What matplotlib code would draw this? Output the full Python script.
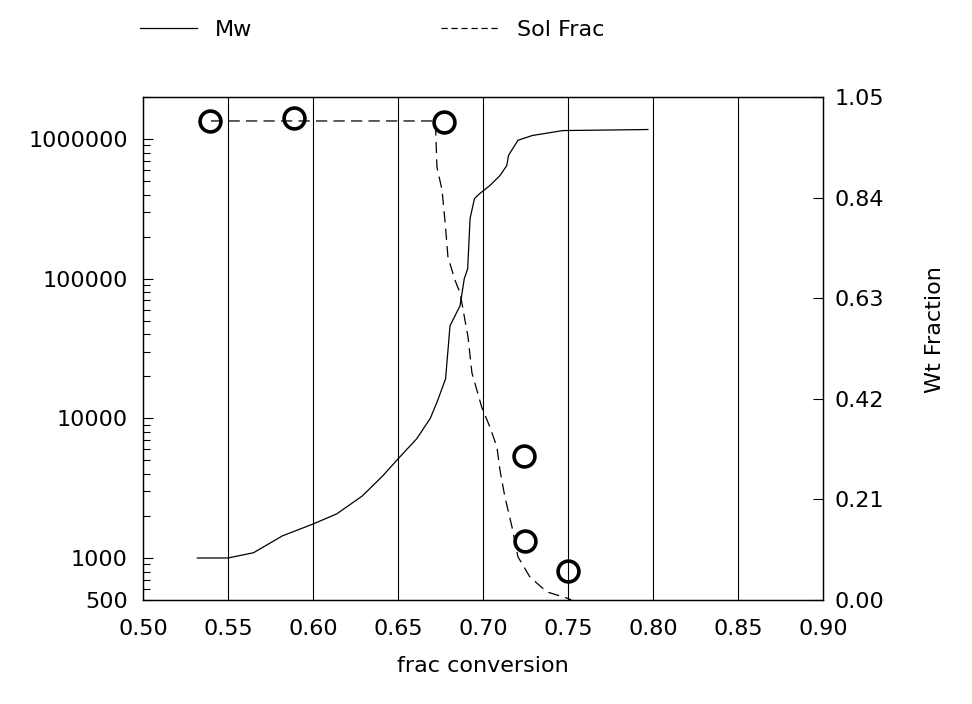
import matplotlib
matplotlib.use("Agg")
import matplotlib.pyplot as plt
from matplotlib.ticker import FixedLocator, LogLocator, NullFormatter
from matplotlib.lines import Line2D

plt.rcParams['font.family'] = ['DejaVu Sans']

# Mw curve (left, log axis)
mw_x = [0.532, 0.55, 0.565, 0.582, 0.60, 0.614, 0.629, 0.641, 0.65, 0.661,
        0.669, 0.673, 0.678, 0.6806, 0.6865, 0.689, 0.691, 0.6924, 0.695,
        0.698, 0.704, 0.71, 0.714, 0.715, 0.7206, 0.729, 0.747, 0.797]
mw_y = [1000, 1000, 1090, 1440, 1750, 2070, 2780, 3870, 5120, 7140,
        10000, 13100, 19200, 46000, 64000, 100000, 118000, 270000, 375000,
        406000, 464000, 548000, 646000, 764000, 980000, 1060000, 1150000, 1170000]

# Sol Frac curve (right axis)
sol_x = [0.54, 0.589, 0.6718, 0.6722, 0.6729, 0.6759, 0.6776, 0.6794, 0.6835,
         0.6865, 0.6894, 0.6912, 0.6935, 0.6994, 0.7041, 0.7082, 0.71, 0.7129,
         0.7171, 0.7206, 0.7276, 0.7376, 0.7494, 0.752]
sol_y = [1.0, 1.0, 1.0, 0.98, 0.904, 0.856, 0.793, 0.716, 0.668,
         0.641, 0.584, 0.549, 0.474, 0.401, 0.361, 0.319, 0.271, 0.215,
         0.152, 0.090, 0.048, 0.017, 0.004, 0.0]

# measured points (circles)
pts_x = [0.5394, 0.589, 0.677, 0.724, 0.725, 0.75]
pts_y = [1.0, 1.006, 0.998, 0.30, 0.123, 0.06]

x_ticks = [0.50, 0.55, 0.60, 0.65, 0.70, 0.75, 0.80, 0.85, 0.90]
left_ticks = [500, 1000, 10000, 100000, 1000000]
right_ticks = [0.0, 0.21, 0.42, 0.63, 0.84, 1.05]

fig = plt.figure(figsize=(9.72, 7.04), dpi=100)
ax = fig.add_axes([0.1471, 0.1477, 0.6996, 0.7145])
ax2 = ax.twinx()

ax.plot(mw_x, mw_y, color="black", lw=0.9)
ax.set_yscale("log")
ax.set_ylim(500, 2.0e6)
ax.set_xlim(0.50, 0.90)

ax2.plot(sol_x, sol_y, color="black", lw=0.9, dashes=(9, 5))
ax2.plot(pts_x, pts_y, "o", ms=15, mfc="none", mec="black", mew=2.6)
ax2.set_ylim(0, 1.05)

# vertical grid
for xv in x_ticks[1:-1]:
    ax.axvline(xv, color="black", lw=0.8)

ax.set_xticks(x_ticks)
ax.set_xticklabels(["%.2f" % v for v in x_ticks])
ax.tick_params(axis="x", length=0, pad=14, labelsize=16)

ax.yaxis.set_major_locator(FixedLocator(left_ticks))
ax.set_yticklabels([str(v) for v in left_ticks])
ax.yaxis.set_minor_locator(LogLocator(base=10, subs=range(2, 10), numticks=20))
ax.yaxis.set_minor_formatter(NullFormatter())
ax.tick_params(axis="y", which="major", direction="in", length=7, width=0.8,
               labelsize=16, pad=11)
ax.tick_params(axis="y", which="minor", direction="in", length=5, width=0.8)

ax2.set_yticks(right_ticks)
ax2.set_yticklabels(["%.2f" % v for v in right_ticks])
ax2.tick_params(axis="y", direction="in", length=7, width=0.8,
                labelsize=16, pad=8)

for a in (ax, ax2):
    for s in a.spines.values():
        s.set_linewidth(0.9)

ax.set_xlabel("frac conversion", fontsize=16, labelpad=12)
ax2.set_ylabel("Wt Fraction", fontsize=16)
ax2.yaxis.set_label_coords(1.15, 0.537)

handles = [Line2D([], [], color="black", lw=0.9),
           Line2D([], [], color="black", lw=0.9, dashes=(5, 3))]
fig.legend(handles, ["Mw", "Sol Frac"], loc="upper left",
           bbox_to_anchor=(0.123, 1.0), ncol=2, frameon=False, fontsize=16,
           handlelength=2.6, columnspacing=8.5)

fig.savefig("out.png", dpi=100)
